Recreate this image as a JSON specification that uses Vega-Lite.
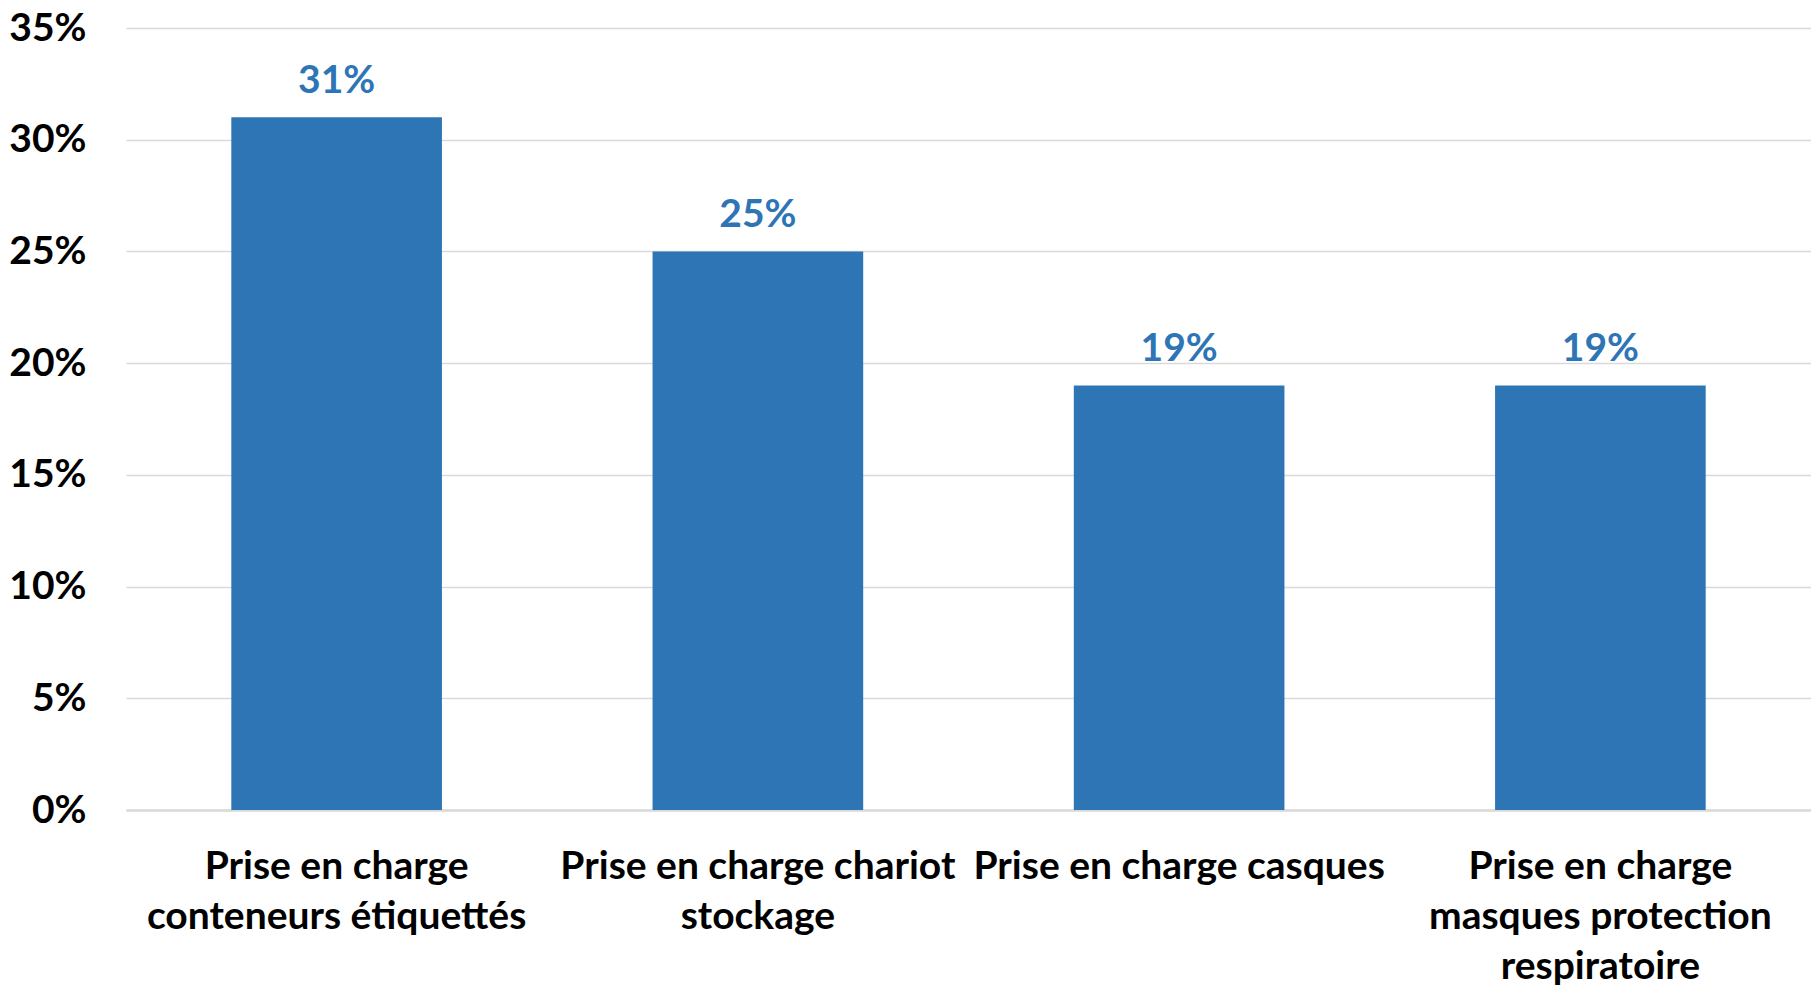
{
  "$schema": "https://vega.github.io/schema/vega-lite/v6.json",
  "width": 1685,
  "height": 782,
  "autosize": {"type": "none"},
  "padding": {"left": 126, "top": 28, "right": 0, "bottom": 179},
  "background": "white",
  "config": {"view": {"stroke": null}, "font": "Lato"},
  "data": {
    "values": [
      {"categorie": "Prise en charge\nconteneurs étiquettés", "part": 0.31},
      {"categorie": "Prise en charge chariot\nstockage", "part": 0.25},
      {"categorie": "Prise en charge casques", "part": 0.19},
      {"categorie": "Prise en charge\nmasques protection\nrespiratoire", "part": 0.19}
    ]
  },
  "encoding": {
    "x": {
      "field": "categorie",
      "type": "nominal",
      "sort": null,
      "scale": {"paddingInner": 0.5, "paddingOuter": 0.25},
      "axis": {
        "title": null,
        "labelAngle": 0,
        "labelExpr": "split(datum.value, '\\n')",
        "labelFont": "Lato",
        "labelFontSize": 39,
        "labelFontWeight": "bold",
        "labelColor": "#000000",
        "labelLineHeight": 50,
        "labelPadding": 37,
        "labelBaseline": "top",
        "labelAlign": "center",
        "labelOverlap": false,
        "labelLimit": 0,
        "ticks": false,
        "domain": true,
        "domainColor": "#d9d9d9",
        "domainWidth": 2.5
      }
    },
    "y": {
      "field": "part",
      "type": "quantitative",
      "scale": {"domain": [0, 0.35], "nice": false, "zero": true},
      "axis": {
        "title": null,
        "values": [0, 0.05, 0.1, 0.15, 0.2, 0.25, 0.3, 0.35],
        "format": ".0%",
        "labelFont": "Lato",
        "labelFontSize": 39,
        "labelFontWeight": "bold",
        "labelColor": "#000000",
        "labelPadding": 40,
        "labelBaseline": "middle",
        "ticks": false,
        "domain": false,
        "grid": true,
        "gridColor": "#d9d9d9",
        "gridWidth": 1.5
      }
    }
  },
  "layer": [
    {"mark": {"type": "bar", "color": "#2E75B6"}},
    {
      "mark": {
        "type": "text",
        "color": "#2E75B6",
        "font": "Lato",
        "fontSize": 39,
        "fontWeight": "bold",
        "baseline": "alphabetic",
        "align": "center",
        "dy": -24
      },
      "encoding": {
        "text": {"field": "part", "type": "quantitative", "format": ".0%"}
      }
    }
  ]
}
